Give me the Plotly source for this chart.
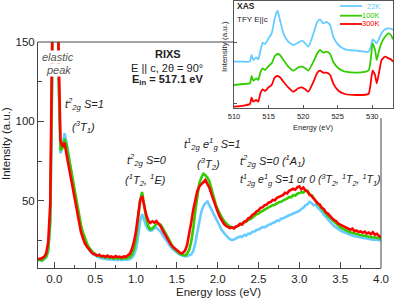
import numpy as np
import plotly.graph_objects as go

# ---------------- RIXS data (energy loss grid, 0.025 eV step) ----------------
E_START, E_STEP = -0.2, 0.025
rixs_22K = [12.2, 12.6, 12.1, 13.2, 14.3, 18, 35, 130, 390, 310, 130, 80, 84, 92.5, 86, 78, 69, 61, 54, 46,
            39, 33, 28, 24.5, 21.5, 19, 17.5, 16.2, 15.4, 14.6, 14.2, 13.8, 13.6, 13.2, 13.4, 12.9, 13.1, 12.7, 13, 12.6,
            12.9, 12.5, 12.8, 12.6, 12.8, 13.2, 14, 16, 19.5, 27, 37, 41.5, 38, 34, 32, 31, 31.5, 32.6, 33, 32,
            30.5, 28.5, 26.5, 24.5, 22.5, 20.8, 19.4, 18.2, 17.2, 16.4, 15.8, 15.3, 15, 15, 15.4, 16.2, 18, 23, 30, 37,
            43, 46.5, 48.5, 49.5, 47, 44, 41, 38.5, 36, 34, 31.5, 29.8, 28.2, 26.9, 25.8, 25.2, 25.6, 26.4, 26.9, 27.5,
            27.2, 28.4, 28.1, 29.3, 29.2, 30.4, 30.6, 31.5, 31.8, 32.6, 33.4, 33.2, 34.3, 34.9, 35.1, 36.2, 36.4, 37.5, 37.3, 38.6,
            38.9, 39.7, 40.1, 40.8, 41.3, 41.9, 42.6, 43.3, 43.5, 44.8, 45.6, 47.1, 47.8, 49.3, 48.6, 47.2, 47.6, 45.8, 44.5, 43.1,
            41.2, 39.6, 38.2, 36.6, 35.4, 34.1, 33, 32.2, 31.3, 30.6, 30, 29.4, 28.9, 28.4, 28.1, 27.6, 27.3, 27, 26.8, 26.5,
            26.3, 26.1, 25.8, 25.7, 25.4, 25.5, 25.2, 25, 24.9]
rixs_100K = [12.6, 12.9, 12.4, 13.5, 14.8, 19, 38, 140, 400, 320, 135, 82, 83, 89, 85, 78, 70, 62, 55, 48,
             41, 35, 30, 26, 23, 20.5, 18.6, 17.2, 16.5, 15.2, 15.6, 14.6, 14.9, 14.1, 14.5, 13.8, 14.3, 13.6, 14.1, 13.5,
             14.0, 13.4, 13.9, 13.6, 14.0, 14.6, 16, 19.5, 26, 37, 50, 55.5, 47, 39, 34, 32, 32.6, 34, 35.2, 35.6,
             35, 33, 30.5, 28, 25.5, 23, 21, 19.5, 18, 17, 16.2, 15.6, 15.5, 16.5, 19, 24, 32, 43, 53, 61,
             64.5, 67, 66, 64.5, 62, 57, 52, 48, 44.5, 41.5, 39.5, 37.5, 36, 34.6, 33.8, 33.2, 32.8, 33.5, 34.3, 35,
             35.6, 36.4, 36.8, 38, 38.3, 39.5, 40.2, 41.4, 41.8, 43, 43.5, 44.6, 45.1, 45.8, 46.6, 47.2, 47.5, 48.6, 49.1, 49.3,
             50.2, 50.8, 51.3, 52.4, 52.1, 53.5, 53.2, 54.4, 54.8, 55.4, 55.1, 56.6, 56.2, 54, 53.5, 51.4, 49.8, 48.2, 46.8, 45.1,
             43.6, 42.1, 40.4, 39.2, 37.6, 36.5, 35.1, 34.2, 33.3, 32.6, 31.8, 31.2, 30.6, 30.1, 29.7, 29.2, 28.9, 28.5, 28.2, 27.9,
             28.1, 27.5, 27.3, 27.1, 26.8, 27, 26.5, 26.2, 26]
rixs_300K = [13.6, 13.2, 13.9, 14.6, 16.8, 24, 48, 160, 420, 330, 150, 88, 84, 86.5, 79, 72, 64, 56, 49, 42,
             36, 30.5, 26.5, 23, 21, 19, 17.8, 16.5, 16.2, 15.4, 15.9, 14.9, 15.3, 14.6, 15.4, 14.5, 14.9, 14.2, 15.1, 14.4,
             14.8, 14.1, 14.9, 14.6, 15.4, 16.5, 19.5, 24, 31, 41, 50, 53, 46, 41, 37.5, 36, 37, 36.2, 37.2, 35.8,
             34, 31.5, 29, 26.5, 24.8, 22.5, 21, 19.8, 18.6, 17.5, 16.8, 17.2, 18.5, 22, 28, 36, 44, 51, 56, 59,
             60.5, 62, 63, 60.5, 58, 54, 50, 46.5, 43, 40, 37.5, 35.5, 34.2, 33.5, 32.8, 33.2, 32.5, 33.8, 34.2, 35.5,
             35, 36.8, 37.2, 38.9, 39.5, 41, 41.8, 43.2, 44, 45.5, 45.8, 47.2, 47.5, 48.9, 49.2, 50.5, 50.2, 51.8, 52.5, 52.9,
             53.5, 55, 54.6, 56.2, 56.8, 57.5, 56.9, 58.5, 59, 57.2, 58.3, 56.5, 55.8, 53.8, 53, 51.5, 50.4, 48.3, 47.6, 45.5,
             44.8, 42.6, 41.9, 40.2, 39, 37.8, 37.2, 35.6, 35, 34.1, 33.4, 32.9, 32.2, 31.7, 32.4, 30.8, 31.2, 30.3, 30.6, 29.8,
             30.5, 29.3, 29.9, 28.8, 30.1, 28.6, 29.2, 27.8, 27.2]
energy_loss = np.round(E_START + E_STEP * np.arange(len(rixs_300K)), 3)

# ---------------- XAS inset data ----------------
xas_energy = [510.0, 511.35, 512.3, 512.55, 512.8, 513.2, 513.5, 513.85, 514.15, 514.5, 515.0, 515.45, 515.9, 516.3,
              516.65, 517.15, 517.85, 518.6, 519.3, 519.8, 520.3, 520.75, 521.5, 522.05, 522.45, 522.9, 523.4, 523.9,
              524.35, 525.1, 526.05, 527.75, 529.45, 529.8, 530.05, 530.4, 530.65, 531.0, 531.35, 531.85, 532.35, 532.7, 533.0]
xas_22K = [46.3, 46.3, 46.5, 53, 48, 50.7, 48.7, 58, 65.3, 64, 69.7, 74.7, 89.7, 97.3, 88, 74.7, 66.3, 63, 65.3, 67.3,
           64.7, 61.3, 74.7, 86.3, 88.7, 84.7, 86, 83, 71.3, 63, 58.7, 57.3, 56.3, 61.3, 68.7, 66.3, 64.7, 69.7, 74.7,
           78.7, 79.7, 79.3, 78]
xas_100K = [23, 24, 24.7, 32, 27.3, 29.7, 28, 36.3, 39.7, 38, 42, 44.7, 52, 54, 53, 48, 41.3, 37.3, 40.7, 41.3,
            39.7, 37.3, 46.3, 54.7, 58, 55.3, 56.3, 54, 46.3, 39.7, 36.3, 35.3, 37.3, 49.7, 64.7, 58, 48, 58, 65.3,
            71.3, 74.7, 73, 68.7]
xas_300K = [1.3, 2.3, 4, 10.3, 6.3, 8, 6.3, 15.3, 18.7, 17, 20.7, 23, 30.7, 32, 30.7, 26.3, 20.7, 16.3, 19.7, 20.7,
            18.7, 16.3, 26.3, 35.3, 37.3, 35.3, 35.3, 33, 24.7, 17.3, 14, 13, 14, 26.3, 37.3, 33, 24.7, 36.3, 48,
            51.3, 49.7, 48.7, 46.3]

labels = ["22K", "100K", "300K"]
colors = ["#66ccff", "#33cc00", "#ff0000"]

# ---------------- layout geometry (pixels) ----------------
W, H = 411, 301
ML, MR, MT, MB = 38, 18, 1, 33
PW, PH = W - ML - MR, H - MT - MB


def px(x):
    return (x - ML) / PW


def py(y):
    return (H - MB - y) / PH


FONT = "Liberation Sans, Arial, sans-serif"
AX = "#444444"

fig = go.Figure()
for name, vals, c in zip(labels, [rixs_22K, rixs_100K, rixs_300K], colors):
    fig.add_trace(go.Scatter(x=energy_loss, y=vals, mode="lines", line=dict(color=c, width=2.6),
                             showlegend=False, hoverinfo="skip", xaxis="x", yaxis="y"))
for name, vals, c in zip(labels, [xas_22K, xas_100K, xas_300K], colors):
    fig.add_trace(go.Scatter(x=xas_energy, y=vals, mode="lines", line=dict(color=c, width=1.8, shape="spline", smoothing=0.5),
                             showlegend=False, hoverinfo="skip", xaxis="x2", yaxis="y2"))

main_right = px(381)
main_top = py(42)

fig.update_layout(
    width=W, height=H, margin=dict(l=ML, r=MR, t=MT, b=MB, autoexpand=False),
    paper_bgcolor="white", plot_bgcolor="white",
    font=dict(family=FONT, size=11, color="#222"),
    xaxis=dict(domain=[0, main_right], range=[-0.2, 4.0], showline=True, linecolor=AX, linewidth=1,
               ticks="inside", ticklen=6, tickcolor=AX, tickwidth=1, dtick=0.5, tick0=0, tickformat=".1f",
               minor=dict(ticks="inside", ticklen=3.5, dtick=0.25, tick0=0, tickcolor=AX),
               showgrid=False, zeroline=False, tickfont=dict(size=11.5, color="#222")),
    yaxis=dict(domain=[0, main_top], range=[7.6, 150], showline=True, linecolor=AX, linewidth=1,
               ticks="inside", ticklen=6, tickcolor=AX, tickwidth=1, tickvals=[50, 100, 150],
               minor=dict(ticks="inside", ticklen=3.5, tickvals=[25, 75, 125], tickcolor=AX),
               showgrid=False, zeroline=False, tickfont=dict(size=11.5, color="#222")),
    xaxis2=dict(domain=[px(234), 1], range=[510, 533], anchor="y2", showline=True, mirror=True, linecolor="#555",
                linewidth=1, ticks="inside", ticklen=3, tickcolor="#555", tickvals=[510, 515, 520, 525, 530],
                showgrid=False, zeroline=False, tickfont=dict(size=7.5, color="#222"), ticklabelstandoff=1),
    yaxis2=dict(domain=[py(108), 1], range=[0, 107], anchor="x2", showline=True, mirror=True, linecolor="#555",
                linewidth=1, ticks="inside", ticklen=3, tickcolor="#555", tickvals=[5, 66], showticklabels=False,
                showgrid=False, zeroline=False),
)

shapes = [
    # main frame top (stops at inset) and right (below inset labels)
    dict(type="line", xref="paper", yref="paper", x0=0, x1=px(234), y0=main_top, y1=main_top,
         line=dict(color=AX, width=1)),
    dict(type="line", xref="paper", yref="paper", x0=main_right, x1=main_right, y0=0, y1=py(118),
         line=dict(color=AX, width=1)),
]
# inset legend line samples
for i, c in enumerate(colors):
    yy = py([6, 15.7, 24][i])
    shapes.append(dict(type="line", xref="paper", yref="paper", x0=px(340), x1=px(362), y0=yy, y1=yy,
                       line=dict(color=c, width=1.8)))
fig.update_layout(shapes=shapes)

ann = []


def A(text, x, y, size=11, xanchor="center", color="#222", **kw):
    ann.append(dict(text=text, x=px(x), y=py(y), xref="paper", yref="paper", showarrow=False,
                    xanchor=xanchor, yanchor="middle", font=dict(size=size, color=color, family=FONT), **kw))


# axis titles
A("Energy loss (eV)", 218, 292, size=11.5)
ann.append(dict(text="Intensity (a.u.)", x=px(6), y=py(144), xref="paper", yref="paper", showarrow=False,
                textangle=-90, xanchor="center", yanchor="middle", font=dict(size=11.5, color="#222", family=FONT)))
# elastic peak
A("<i>elastic</i>", 58, 57, size=11, color="#555", bgcolor="white", borderpad=0)
A("<i>peak</i>", 58.5, 70.5, size=11, color="#555", bgcolor="white", borderpad=0)
# RIXS header
A("<b>RIXS</b>", 167.5, 54, size=11)
A("E || c, 2θ = 90°", 166.7, 67.5, size=11)
A("<b>E<sub>in</sub> = 517.1 eV</b>", 167, 80, size=11)
# assignments
A("<i>t<sup>2</sup><sub>2g</sub> S=1</i>", 63, 104, xanchor="left")
A("<i>(<sup>3</sup>T<sub>1</sub>)</i>", 70, 127, xanchor="left")
A("<i>t<sup>2</sup><sub>2g</sub> S=0</i>", 125, 160, xanchor="left")
A("<i>(<sup>1</sup>T<sub>2</sub>, <sup>1</sup>E)</i>", 123, 180, xanchor="left")
A("<i>t<sup>1</sup><sub>2g</sub> e<sup>1</sup><sub>g</sub> S=1</i>", 182, 144, xanchor="left")
A("<i>(<sup>3</sup>T<sub>2</sub>)</i>", 195, 164, xanchor="left")
A("<i>t<sup>2</sup><sub>2g</sub> S=0 (<sup>1</sup>A<sub>1</sub>)</i>", 238, 161, xanchor="left")
A("<i>t<sup>1</sup><sub>2g</sub> e<sup>1</sup><sub>g</sub> S=1 or 0 (<sup>3</sup>T<sub>2</sub>, <sup>1</sup>T<sub>2</sub>, <sup>1</sup>T<sub>1</sub>)</i>",
  238, 180, xanchor="left", size=10.5)
# inset texts
A("<b>XAS</b>", 235, 6, size=8.5, xanchor="left")
A("TFY E||c", 235, 19, size=8, xanchor="left")
A("Energy (eV)", 313, 127, size=7.5)
ann.append(dict(text="Intensity (a.u.)", x=px(225), y=py(47), xref="paper", yref="paper", showarrow=False,
                textangle=-90, xanchor="center", yanchor="middle", font=dict(size=8, color="#222", family=FONT)))
for i, (lab, c) in enumerate(zip(labels, colors)):
    A(lab, 382, [6, 15.7, 24][i], size=7.5, xanchor="right", color=c)

fig.update_layout(annotations=ann, hovermode=False)
fig.write_html("out.html", config={"displayModeBar": False, "staticPlot": True},
               post_script="document.body.style.margin='0px';document.body.style.overflow='hidden';")
